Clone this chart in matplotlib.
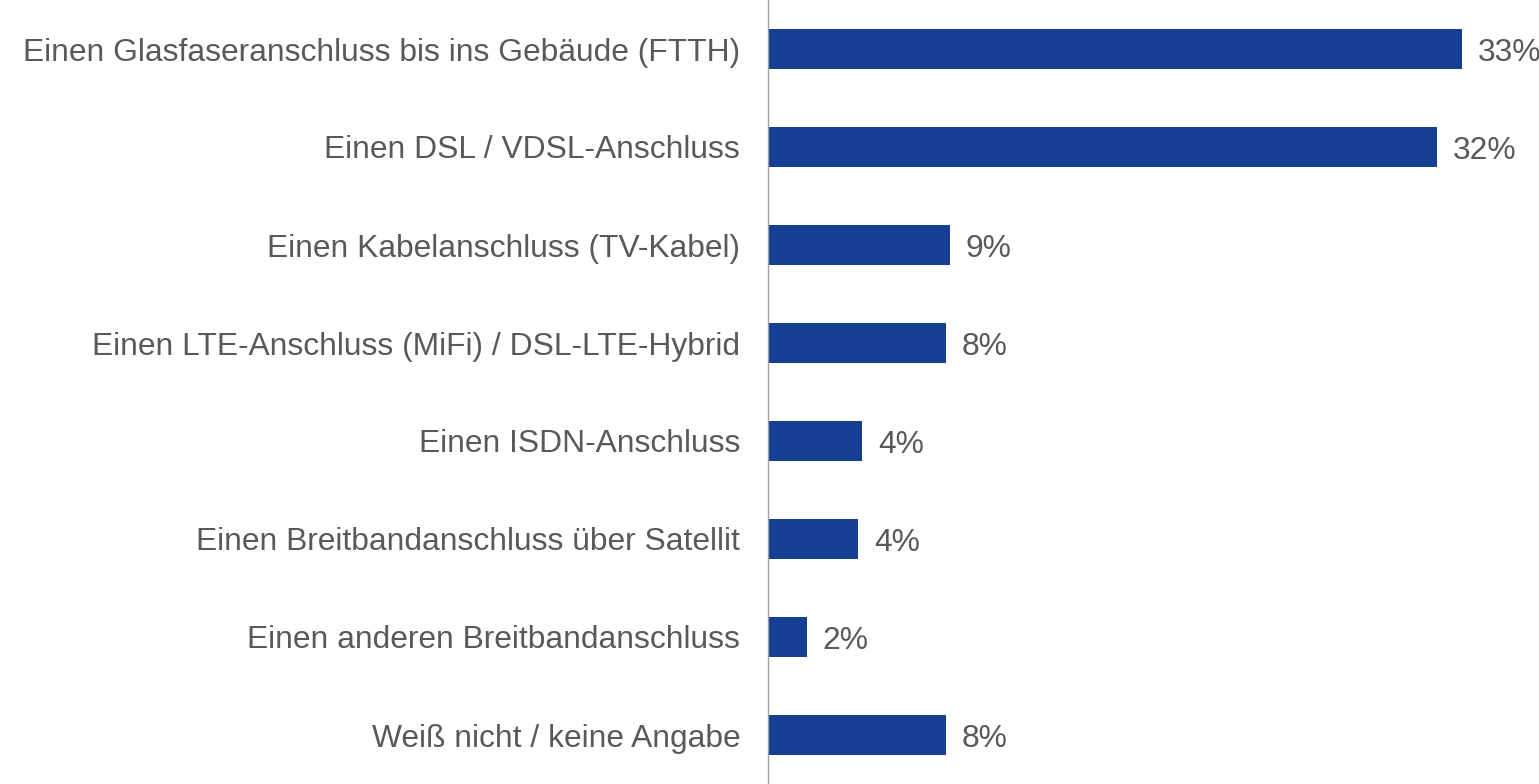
import matplotlib
matplotlib.use("Agg")
import matplotlib.pyplot as plt
import matplotlib.transforms as mtransforms

# Data
categories = [
    "Einen Glasfaseranschluss bis ins Gebäude (FTTH)",
    "Einen DSL / VDSL-Anschluss",
    "Einen Kabelanschluss (TV-Kabel)",
    "Einen LTE-Anschluss (MiFi) / DSL-LTE-Hybrid",
    "Einen ISDN-Anschluss",
    "Einen Breitbandanschluss über Satellit",
    "Einen anderen Breitbandanschluss",
    "Weiß nicht / keine Angabe",
]
values = [33.05, 31.86, 8.67, 8.48, 4.48, 4.29, 1.86, 8.48]
labels = ["33%", "32%", "9%", "8%", "4%", "4%", "2%", "8%"]

bar_color = "#143F92"
text_color = "#595959"

plt.rcParams["font.family"] = ["Liberation Sans", "DejaVu Sans"]

fig = plt.figure(figsize=(15.39, 7.84), dpi=100)
ax = fig.add_axes([768 / 1539, 0, 1 - 768 / 1539, 1])

ypos = list(range(len(categories)))
ax.barh(ypos, values, height=0.41, color=bar_color)
for y, v, lab in zip(ypos, values, labels):
    ax.text(v + 0.75, y + 0.04, lab, va="center", ha="left", fontsize=22.9, color=text_color)

ax.set_xlim(0, 771 / 21)
ax.set_ylim(len(categories) - 0.5, -0.5)
ax.set_yticks(ypos)
ax.set_yticklabels(categories, fontsize=22.9, color=text_color, va="center")
ax.tick_params(axis="y", length=0, pad=20)
ax.set_xticks([])

# nudge category labels down a little
offset = mtransforms.ScaledTranslation(0, -0.035, fig.dpi_scale_trans)
for t in ax.get_yticklabels():
    t.set_transform(t.get_transform() + offset)

for side in ["top", "right", "bottom"]:
    ax.spines[side].set_visible(False)
ax.spines["left"].set_color("#A0A0A0")
ax.spines["left"].set_linewidth(1)

fig.savefig("out.png", dpi=100)
